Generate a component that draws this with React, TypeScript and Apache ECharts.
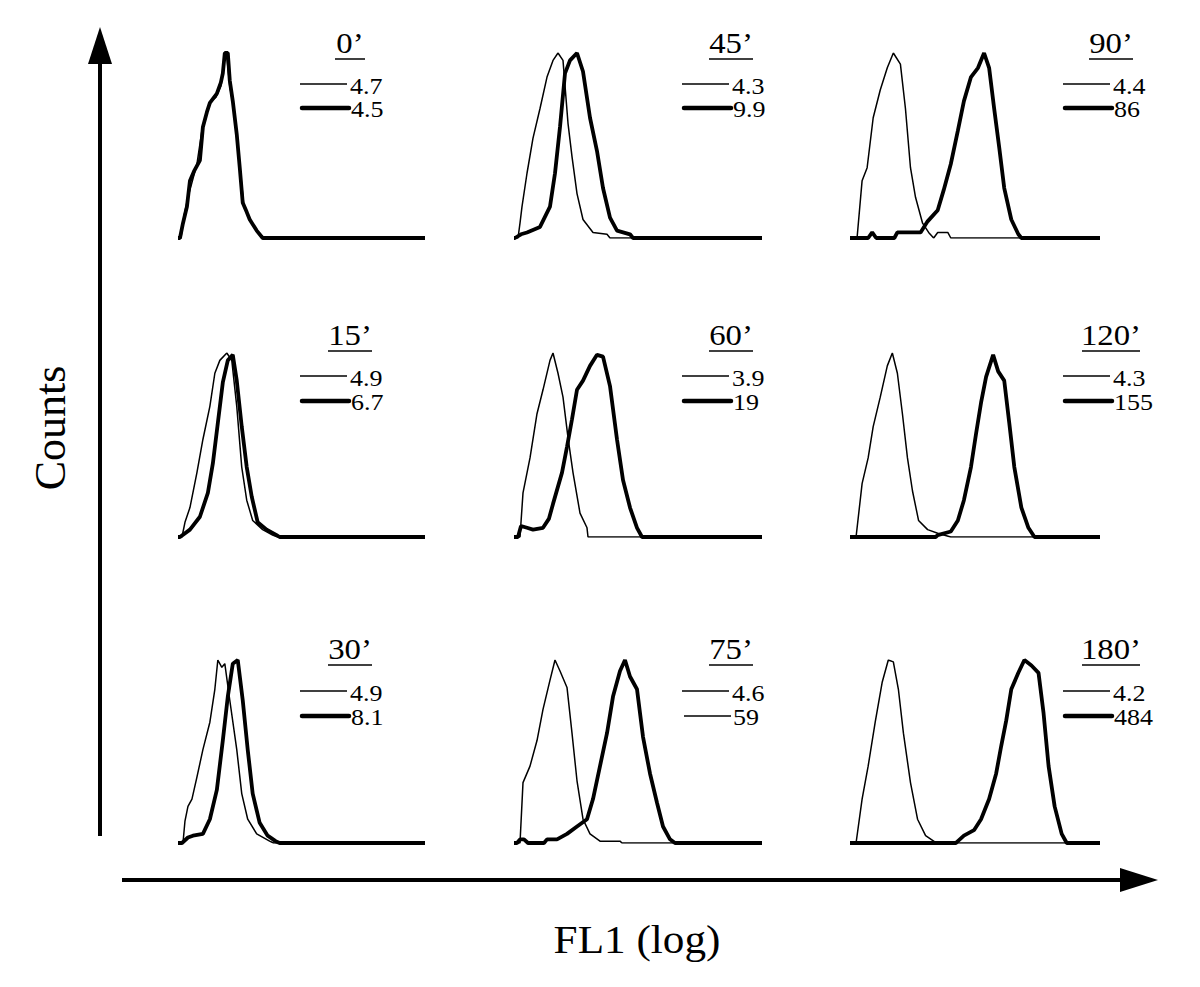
import React, { useEffect, useRef } from "react";
import * as echarts from "echarts";

type Pt = [number, number];

// Panel order: column-major (0', 15', 30' | 45', 60', 75' | 90', 120', 180')
const times = ["0’", "15’", "30’", "45’", "60’", "75’", "90’", "120’", "180’"];
const thinMFI = ["4.7", "4.9", "4.9", "4.3", "3.9", "4.6", "4.4", "4.3", "4.2"];
const thickMFI = ["4.5", "6.7", "8.1", "9.9", "19", "59", "86", "155", "484"];

// FL1 channel vs counts (% of peak)
const thin0: Pt[] = [[0,0],[3,0],[6,12],[10,22],[14,30],[19,40],[24,58],[28,66],[33,74],[38,76],[43,82],[46,95],[49,98],[52,82],[56,70],[60,52],[63,34],[66,18],[70,12],[74,8],[80,3],[87,0],[248,0]];
const thick0: Pt[] = [[0,0],[2,0],[5,8],[9,17],[12,31],[16,36],[22,42],[25,60],[29,68],[32,73],[39,78],[43,84],[45,89],[47,100],[50,100],[52,85],[55,74],[59,56],[62,38],[65,19],[69,14],[72,10],[79,4],[85,0],[248,0]];
const thin15: Pt[] = [[0,0],[4,0],[7,8],[12,16],[19,35],[25,53],[32,71],[37,89],[42,96],[49,100],[54,96],[59,71],[64,38],[69,20],[75,9],[85,4],[95,1],[100,0],[248,0]];
const thick15: Pt[] = [[0,0],[2,0],[12,4],[22,11],[30,24],[35,40],[40,62],[45,84],[50,96],[55,99],[59,85],[64,60],[69,38],[74,22],[80,8],[89,4],[99,1],[102,0],[248,0]];
const thin30: Pt[] = [[0,0],[5,0],[7,12],[10,20],[14,24],[19,36],[25,51],[32,66],[37,84],[40,100],[44,96],[47,98],[52,78],[59,51],[64,27],[70,13],[79,5],[92,1],[96,0],[248,0]];
const thick30: Pt[] = [[0,0],[4,0],[10,3],[15,4],[25,5],[32,13],[39,29],[45,56],[50,80],[55,98],[60,100],[65,78],[70,51],[75,27],[82,11],[90,4],[98,1],[102,0],[248,0]];
const thin45: Pt[] = [[0,0],[4,0],[6,8],[8,17],[13,35],[19,54],[26,70],[33,87],[39,96],[44,100],[49,96],[54,62],[58,44],[63,24],[69,10],[79,3],[93,2],[96,0],[248,0]];
const thick45: Pt[] = [[0,0],[1,0],[7,2],[13,3],[26,6],[36,17],[41,35],[46,60],[51,89],[56,96],[63,100],[69,90],[76,65],[83,47],[89,27],[96,11],[103,4],[116,2],[119,0],[248,0]];
const thin60: Pt[] = [[0,0],[6,0],[9,24],[16,43],[23,67],[29,80],[36,96],[39,100],[44,89],[49,76],[54,54],[59,35],[66,13],[73,5],[74,0],[248,0]];
const thick60: Pt[] = [[0,0],[4,0],[7,6],[13,5],[19,4],[29,5],[35,10],[39,18],[48,35],[53,49],[58,64],[63,80],[69,85],[76,93],[83,99],[89,98],[96,82],[103,53],[109,31],[116,16],[123,5],[128,0],[248,0]];
const thin75: Pt[] = [[0,0],[6,0],[9,33],[16,42],[23,56],[29,73],[36,89],[41,100],[46,94],[53,85],[58,60],[63,34],[69,13],[76,5],[86,1],[96,1],[106,1],[108,0],[248,0]];
const thick75: Pt[] = [[0,0],[3,0],[6,2],[10,2],[14,0],[30,0],[33,2],[43,2],[53,5],[63,9],[73,13],[79,24],[86,42],[93,60],[99,80],[106,94],[111,100],[116,91],[123,84],[129,58],[136,38],[143,22],[149,9],[156,2],[161,0],[248,0]];
const thin90: Pt[] = [[0,0],[7,0],[12,31],[17,38],[23,65],[30,80],[37,92],[43,100],[50,94],[55,70],[60,38],[65,22],[72,8],[78,3],[83,0],[87,3],[97,3],[100,0],[248,0]];
const thick90: Pt[] = [[0,0],[18,0],[22,3],[26,0],[44,0],[47,3],[70,3],[77,9],[87,15],[93,26],[100,40],[107,58],[113,74],[120,87],[127,92],[133,100],[138,92],[143,70],[148,49],[153,27],[160,10],[167,2],[170,0],[248,0]];
const thin120: Pt[] = [[0,0],[6,0],[12,29],[18,43],[23,60],[30,76],[37,93],[42,100],[47,89],[52,67],[57,43],[62,25],[68,9],[77,4],[87,2],[100,0],[248,0]];
const thick120: Pt[] = [[0,0],[85,0],[87,1],[100,3],[107,9],[113,20],[120,38],[125,56],[130,73],[135,87],[142,99],[147,90],[153,85],[158,62],[163,38],[170,16],[177,5],[183,0],[248,0]];
const thin180: Pt[] = [[0,0],[6,0],[12,24],[18,42],[25,66],[32,88],[38,100],[43,99],[48,84],[53,60],[60,33],[67,13],[75,4],[83,1],[88,0],[248,0]];
const thick180: Pt[] = [[0,0],[105,0],[107,1],[113,4],[123,7],[130,13],[138,24],[145,38],[150,53],[155,67],[160,84],[167,93],[173,100],[180,97],[187,93],[192,71],[197,42],[203,20],[210,5],[215,0],[248,0]];

const thinSeries = [thin0, thin15, thin30, thin45, thin60, thin75, thin90, thin120, thin180];
const thickSeries = [thick0, thick15, thick30, thick45, thick60, thick75, thick90, thick120, thick180];

const FONT = "'Liberation Serif', 'DejaVu Serif', serif";

export default function App() {
  const ref = useRef<HTMLDivElement>(null);
  useEffect(() => {
    if (!ref.current) return;
    const chart = echarts.init(ref.current, undefined, { renderer: "svg" });

    const colLeft = [178, 514, 850];
    const colWidth = [247, 248, 250];
    const rowTop = [53, 353, 660];
    const rowH = [185, 184, 183];
    const labelCx = [350, 731, 1111];
    const legX0 = [300, 682, 1063];
    const underlineY = [59, 351, 665];
    const thinY = [84, 376, 691];
    const thickY = [108, 401, 716];
    const SX = 1.13;

    const grids: any[] = [];
    const xAxes: any[] = [];
    const yAxes: any[] = [];
    const series: any[] = [];
    const graphics: any[] = [];

    for (let i = 0; i < 9; i++) {
      const col = Math.floor(i / 3);
      const row = i % 3;
      grids.push({ left: colLeft[col], top: rowTop[row], width: colWidth[col], height: rowH[row] });
      xAxes.push({ gridIndex: i, type: "value", min: 0, max: 248, show: false });
      yAxes.push({ gridIndex: i, type: "value", min: 0, max: 100, show: false });
      series.push({
        type: "line", xAxisIndex: i, yAxisIndex: i, data: thinSeries[i], symbol: "none",
        lineStyle: { color: "#000", width: 1.5 }, z: 2,
      });
      series.push({
        type: "line", xAxisIndex: i, yAxisIndex: i, data: thickSeries[i], symbol: "none",
        lineStyle: { color: "#000", width: 3.8 }, z: 3,
      });

      const n = times[i].length - 1;
      const uw = n * 14 + 16;
      const cx = labelCx[col];
      graphics.push({
        type: "text", x: cx, y: underlineY[row] - 1, scaleX: SX,
        style: { text: times[i], font: `29px ${FONT}`, fill: "#000", textAlign: "center", textVerticalAlign: "bottom" },
      });
      graphics.push({
        type: "line", shape: { x1: cx - uw / 2, y1: underlineY[row], x2: cx + uw / 2, y2: underlineY[row] },
        style: { stroke: "#000", lineWidth: 1.5 },
      });
      const lx = legX0[col];
      graphics.push({
        type: "line", shape: { x1: lx, y1: thinY[row], x2: lx + 47, y2: thinY[row] },
        style: { stroke: "#000", lineWidth: 1.6 },
      });
      graphics.push({
        type: "text", x: lx + 50, y: thinY[row] + 2, scaleX: SX,
        style: { text: thinMFI[i], font: `23px ${FONT}`, fill: "#000", textAlign: "left", textVerticalAlign: "middle" },
      });
      const secondThin = i === 5;
      graphics.push({
        type: "line", shape: { x1: lx + 2, y1: thickY[row], x2: lx + 49, y2: thickY[row] },
        style: { stroke: "#000", lineWidth: secondThin ? 1.6 : 4.5, lineCap: secondThin ? "butt" : "round" },
      });
      graphics.push({
        type: "text", x: lx + 51, y: thickY[row] + 1, scaleX: SX,
        style: { text: thickMFI[i], font: `23px ${FONT}`, fill: "#000", textAlign: "left", textVerticalAlign: "middle" },
      });
    }

    // Axes arrows
    graphics.push({ type: "line", shape: { x1: 100, y1: 836, x2: 100, y2: 60 }, style: { stroke: "#000", lineWidth: 4 } });
    graphics.push({ type: "polygon", shape: { points: [[100, 27], [88, 64], [112, 64]] }, style: { fill: "#000" } });
    graphics.push({ type: "line", shape: { x1: 122, y1: 880, x2: 1124, y2: 880 }, style: { stroke: "#000", lineWidth: 4 } });
    graphics.push({ type: "polygon", shape: { points: [[1158, 880], [1120, 868], [1120, 892]] }, style: { fill: "#000" } });
    graphics.push({
      type: "text", x: 50, y: 428, rotation: Math.PI / 2,
      style: { text: "Counts", font: `44px ${FONT}`, fill: "#000", textAlign: "center", textVerticalAlign: "middle" },
    });
    graphics.push({
      type: "text", x: 637, y: 940, scaleX: 1.08,
      style: { text: "FL1 (log)", font: `40px ${FONT}`, fill: "#000", textAlign: "center", textVerticalAlign: "middle" },
    });

    chart.setOption({
      animation: false,
      backgroundColor: "#fff",
      grid: grids,
      xAxis: xAxes,
      yAxis: yAxes,
      series,
      graphic: graphics,
    });
    return () => chart.dispose();
  }, []);
  return (
    <div
      ref={ref}
      style={{ position: "fixed", left: 0, top: 0, width: 1200, height: 987, background: "#fff" }}
    />
  );
}
